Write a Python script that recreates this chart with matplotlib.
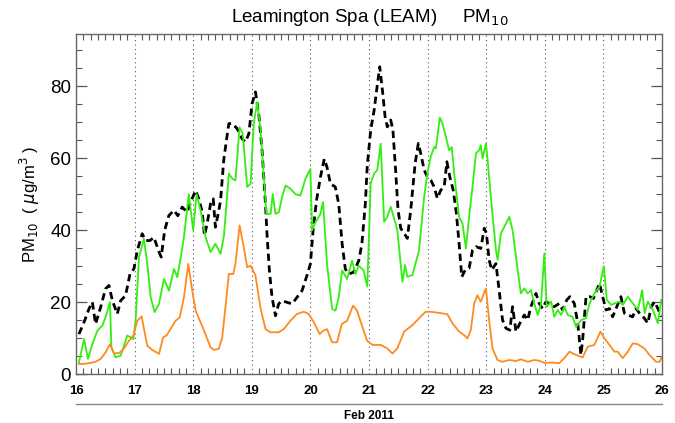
import matplotlib
matplotlib.use("Agg")
import matplotlib.pyplot as plt
from matplotlib.ticker import MultipleLocator
import numpy as np

plt.rcParams['font.family'] = ['Liberation Sans', 'DejaVu Sans']

# hourly PM10 at Leamington Spa, hours counted from 00:00 on 16 Feb 2011
green_h = [1.2, 3.3, 4.9, 6.7, 8.7, 10.8, 12.1, 13.9, 14.5, 16.2, 18.3, 21.0, 23.5, 24.4, 25.8,
           27.8, 29.2, 30.6, 32.2, 34.0, 36.0, 38.1, 40.1, 41.5, 42.8, 44.2, 46.2, 48.0, 49.4,
           51.0, 53.1, 55.1, 57.1, 59.2, 60.6, 62.6, 64.0, 65.3, 67.0, 68.3, 70.1, 71.5, 72.8,
           74.2, 75.6, 78.0, 79.7, 80.6, 81.7, 83.1, 84.4, 85.8, 87.8, 89.9, 91.9, 94.0, 96.0,
           96.7, 98.1, 100.1, 101.2, 102.8, 104.9, 106.3, 107.6, 109.0, 111.0, 113.1, 114.4,
           115.8, 117.8, 119.3, 120.7, 122.1, 123.4, 124.8, 126.2, 127.5, 128.9, 130.3, 131.6,
           133.7, 134.8, 135.7, 137.8, 140.5, 142.6, 143.9, 145.3, 146.7, 147.4, 149.0, 150.1,
           151.5, 152.8, 153.9, 154.9, 156.9, 158.3, 159.7, 161.0, 162.4, 163.8, 165.1, 165.8,
           166.5, 167.9, 168.6, 169.9, 172.0, 172.7, 174.0, 176.1, 177.5, 178.8, 180.9, 182.2,
           183.6, 185.0, 186.3, 187.7, 189.1, 190.5, 191.8, 192.8, 194.6, 195.9, 197.3, 198.7,
           200.0, 201.4, 203.4, 204.8, 206.9, 208.9, 210.3, 212.3, 214.4, 216.2, 217.4, 219.2,
           220.5, 222.6, 224.0, 226.0, 228.1, 230.1, 231.9, 232.9, 234.2, 236.3, 238.3, 239.7]
green_v = [3.2, 9.7, 4.2, 8.3, 12.0, 13.5, 15.8, 20.0, 7.4, 4.6, 5.1, 10.7, 9.7, 14.8, 32.5,
           37.6, 30.6, 21.3, 17.2, 19.5, 26.4, 23.2, 29.2, 26.9, 32.0, 38.0, 50.0, 39.9, 50.0,
           45.5, 38.0, 33.9, 36.2, 33.4, 38.5, 55.7, 54.3, 53.8, 68.6, 66.8, 52.0, 52.9, 69.6,
           75.6, 67.7, 44.5, 44.5, 50.0, 44.5, 45.0, 49.2, 52.4, 51.5, 50.0, 49.6, 54.3, 57.0,
           39.9, 42.2, 44.5, 47.8, 30.6, 18.1, 17.6, 21.3, 28.8, 26.4, 31.5, 27.8,
           30.1, 28.8, 24.3, 53.0, 55.7, 56.7, 64.0, 42.3, 43.7, 46.5, 43.2, 40.0,
           25.6, 30.3, 27.0, 27.5, 34.4, 49.3, 55.7, 60.4, 63.1, 62.7, 71.3, 69.6,
           65.9, 62.2, 63.1, 55.7, 43.7, 41.8, 34.9, 43.7, 52.0, 61.3, 62.2, 63.6,
           59.9, 64.0, 59.4, 49.3, 34.4, 31.7, 39.0, 41.8, 43.7, 40.0, 28.9, 22.4,
           23.8, 22.4, 23.3, 19.6, 16.4, 19.6, 33.5, 18.7, 20.1, 15.9, 17.8, 16.4,
           18.7, 16.4, 15.9, 13.1, 15.0, 15.5, 19.6, 22.4, 24.3, 30.0, 20.6, 19.2,
           19.6, 20.1, 19.2, 21.5, 19.6, 17.8, 23.3, 16.9, 20.1, 17.8, 14.1, 20.6]

orange_h = [1.2, 3.3, 6.0, 8.0, 10.1, 12.1, 13.9, 15.5, 17.6, 19.6, 21.7, 23.5, 25.1, 26.9,
            28.1, 29.2, 31.2, 34.0, 35.7, 37.1, 38.7, 40.8, 42.5, 44.2, 46.0, 47.6, 49.0, 51.0,
            53.0, 55.1, 56.5, 58.5, 59.9, 61.2, 62.6, 64.4, 65.3, 67.0, 68.7, 70.1, 71.5, 73.5,
            75.5, 77.6, 79.6, 81.0, 83.0, 85.1, 87.8, 90.5, 93.3, 95.3, 97.4, 99.8, 101.2,
            102.8, 104.9, 106.9, 108.9, 111.0, 113.5, 115.1, 117.1, 119.2, 121.4, 124.8, 127.5,
            129.6, 131.6, 134.4, 137.8, 140.5, 143.2, 145.3, 148.7, 152.1, 154.2, 156.9, 159.0,
            160.3, 161.7, 163.1, 164.4, 165.8, 166.8, 167.9, 169.2, 170.6, 172.6, 174.7, 177.4,
            180.2, 182.2, 185.0, 187.7, 189.7, 191.8, 195.2, 197.9, 200.0, 202.1, 204.8, 207.5,
            209.6, 212.3, 214.8, 216.4, 218.5, 220.5, 221.9, 223.9, 226.0, 228.0, 230.1, 232.8,
            234.9, 237.6, 239.0, 240.0]
orange_v = [2.8, 2.8, 3.1, 3.4, 4.2, 6.0, 8.3, 5.8, 5.8, 7.0, 9.3, 10.7, 14.8, 16.0,
            11.6, 7.9, 6.7, 5.6, 10.2, 10.7, 12.5, 14.8, 15.8, 21.3, 30.6, 23.2, 17.6, 14.4,
            11.1, 7.4, 6.7, 7.0, 10.2, 18.6, 27.8, 27.8, 30.6, 41.3, 35.3, 29.7, 30.1, 27.4,
            18.6, 12.5, 11.6, 11.6, 11.6, 12.5, 14.8, 16.7, 17.3, 16.7, 14.4, 11.1, 12.0,
            12.5, 8.8, 8.8, 13.9, 14.8, 19.0, 17.6, 13.5, 9.3, 8.1, 8.1, 7.1,
            5.7, 7.1, 11.8, 13.6, 15.5, 17.3, 17.3, 17.0, 16.6, 14.1, 11.8, 10.8,
            9.9, 12.2, 19.6, 21.9, 20.1, 21.9, 23.8, 15.0, 7.1, 3.9, 3.4, 3.9,
            3.6, 4.1, 3.4, 3.9, 3.7, 3.1, 3.2, 3.0, 4.4, 6.2, 5.3, 4.6,
            7.6, 8.1, 11.8, 9.9, 8.1, 6.2, 6.2, 4.4, 6.2, 8.5, 8.3, 7.1,
            5.3, 3.4, 3.4, 4.8]

black_h = [1.2, 3.3, 5.3, 6.7, 8.0, 10.1, 12.1, 13.5, 14.9, 16.9, 18.3, 20.3, 22.1, 23.7,
           25.1, 27.1, 28.5, 30.3, 31.9, 34.0, 34.9, 36.3, 38.0, 40.1, 41.7, 43.5, 45.5, 47.2,
           49.0, 50.3, 51.7, 52.6, 53.7, 55.1, 56.2, 57.1, 58.5, 59.2, 60.5, 61.6, 62.6, 64.0,
           66.0, 68.0, 69.4, 70.8, 72.1, 73.5, 74.9, 76.2, 77.6, 78.3, 79.2, 80.3, 81.7, 83.0,
           84.4, 86.5, 88.5, 90.5, 92.6, 94.6, 96.0, 97.1, 98.5, 100.1, 101.7, 102.8, 104.2,
           106.2, 107.6, 109.0, 110.3, 111.7, 113.7, 115.8, 117.1, 118.5, 119.3, 120.7, 122.1,
           123.4, 124.4, 125.5, 126.6, 127.5, 128.9, 129.8, 130.9, 131.9, 133.0, 134.4, 135.7,
           137.1, 138.9, 140.2, 141.2, 142.6, 143.9, 145.3, 146.7, 148.0, 149.4, 150.8, 151.9,
           153.1, 154.5, 155.8, 156.9, 158.0, 159.4, 161.0, 162.4, 163.8, 165.8, 167.2, 168.1,
           169.2, 170.3, 172.0, 173.3, 174.7, 176.1, 177.7, 178.8, 180.2, 181.8, 183.6, 185.0,
           186.3, 188.4, 189.7, 191.1, 192.5, 193.8, 195.9, 197.9, 199.3, 201.0, 202.3, 204.1,
           205.5, 206.8, 207.5, 208.9, 210.5, 211.9, 213.3, 214.4, 215.7, 217.1, 218.5, 219.8,
           221.5, 223.2, 224.6, 226.0, 228.0, 229.4, 230.8, 232.8, 234.2, 235.6, 237.0, 238.3,
           239.7]
black_v = [11.1, 14.4, 18.1, 20.0, 13.9, 18.6, 23.7, 24.6, 20.4, 16.7, 20.4, 21.8, 27.8, 29.2,
           34.3, 39.0, 37.1, 37.1, 38.0, 33.9, 32.5, 39.9, 44.0, 45.5, 44.0, 46.4, 45.0, 48.2,
           51.0, 48.7, 45.0, 38.5, 41.7, 47.3, 48.7, 40.8, 45.5, 48.2, 59.4, 64.9, 69.6, 69.6,
           68.2, 65.4, 64.5, 66.8, 75.1, 78.4, 71.9, 62.2, 47.3, 38.0, 28.8, 21.3, 16.2, 19.5,
           20.4, 19.9, 19.5, 21.3, 23.2, 27.4, 30.6, 39.9, 48.2, 54.7, 59.8, 57.5, 52.9,
           52.0, 47.3, 36.2, 29.2, 27.8, 28.3, 31.5, 36.2, 47.3, 58.0, 67.8, 73.3,
           80.3, 85.4, 78.9, 71.5, 68.7, 70.6, 67.8, 56.7, 45.6, 40.5, 39.1, 37.7,
           45.6, 58.5, 64.1, 61.3, 56.7, 54.8, 53.9, 52.0, 48.8, 51.1, 52.0, 59.0,
           54.8, 51.1, 44.6, 36.3, 27.0, 28.9, 29.4, 34.4, 35.4, 34.9, 40.5, 39.1,
           31.7, 28.9, 30.7, 23.3, 15.0, 12.7, 12.2, 18.7, 11.8, 14.1, 16.4, 15.0,
           18.7, 22.4, 19.6, 18.2, 20.1, 19.6, 18.7, 19.6, 17.8, 20.6, 21.5, 19.6,
           14.1, 5.3, 9.4, 21.5, 21.5, 21.0, 23.3, 25.2, 21.5, 17.8, 18.2, 15.9,
           18.7, 21.5, 16.9, 16.4, 15.9, 18.2, 16.9, 15.5, 14.1, 18.7, 20.1, 18.2,
           15.9]

day_ticks = list(range(16, 27))

fig = plt.figure(figsize=(6.75, 4.23), dpi=100)
ax = fig.add_axes([0.1126, 0.1158, 0.8681, 0.8038])

def days(h):
    return 16 + np.array(h) / 24.0

ax.plot(days(black_h), black_v, color='black', lw=2.0, dashes=(2.6, 1.6))
ax.plot(days(green_h), green_v, color='#33ee11', lw=1.3)
ax.plot(days(orange_h), orange_v, color='#ff8a1e', lw=1.3)

ax.set_xlim(16, 26)
ax.set_ylim(0, 94.5)
ax.set_xticks(day_ticks)
ax.set_xticklabels([str(d) for d in day_ticks], fontsize=9.5, fontweight='bold')
ax.xaxis.set_minor_locator(MultipleLocator(1 / 8))
ax.yaxis.set_major_locator(MultipleLocator(20))
ax.yaxis.set_minor_locator(MultipleLocator(5))
ax.tick_params(axis='y', labelsize=13.5)
ax.tick_params(which='both', direction='in', top=True, right=True, colors='#555555',
               labelcolor='black')
ax.tick_params(axis='x', which='major', length=0, pad=8)
ax.tick_params(axis='x', which='minor', length=4, width=0.8)
ax.tick_params(axis='y', which='major', length=8, width=0.9)
ax.tick_params(axis='y', which='minor', length=4.5, width=0.8)
for s in ax.spines.values():
    s.set_color('#666666')
    s.set_linewidth(1.0)

for d in day_ticks[1:-1]:
    ax.axvline(d, color='#555555', lw=0.8, linestyle=(0, (1, 3)), zorder=0)

ax.set_ylabel(r'PM$_{10}$  ( $\mu$g/m$^3$ )', fontsize=12, labelpad=6)
fig.text(0.548, 0.958, r'Leamington Spa (LEAM)     PM$_{10}$', ha='center', va='center',
         fontsize=13.5)

# date label under the axis
fig.add_artist(plt.Line2D([0.1126, 0.9807], [1 - 404 / 423] * 2, color='#888888', lw=1.0))
fig.text(0.547, 1 - 416 / 423, 'Feb 2011', ha='center', va='center', fontsize=8.5,
         fontweight='bold')

fig.savefig('out.png', dpi=100)
